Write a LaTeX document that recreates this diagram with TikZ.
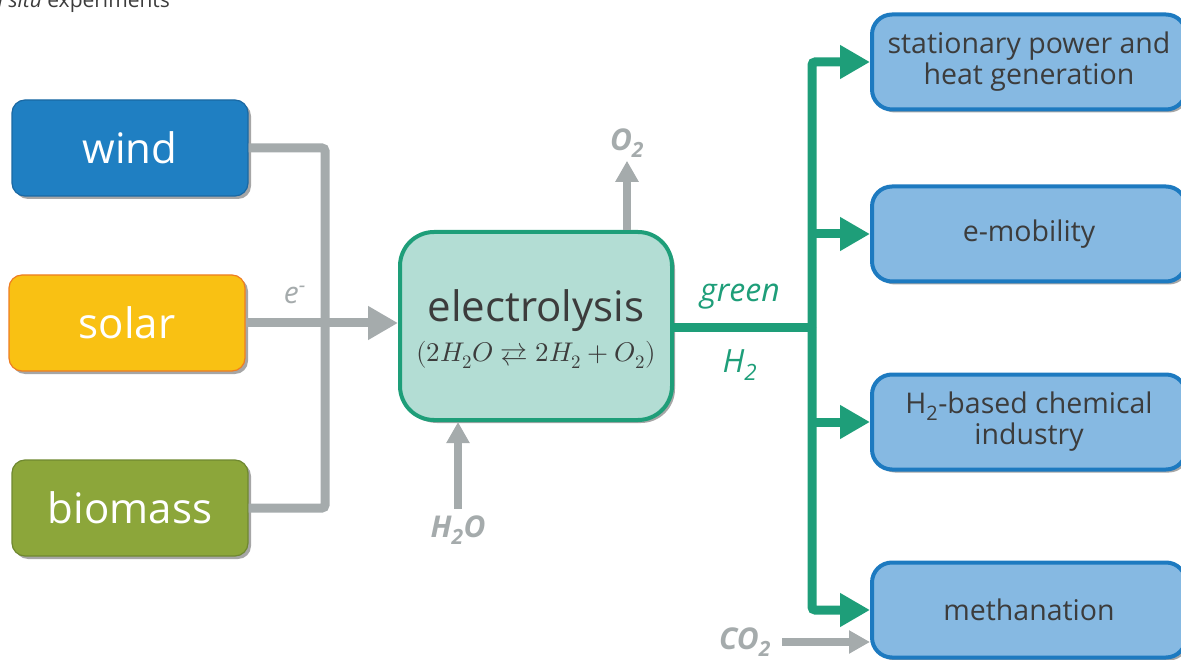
\documentclass[tikz,border=0pt]{standalone}
\usepackage{amsmath}
\usepackage{fontspec}
\usepackage{unicode-math}
\setmainfont{Open Sans}
\setmathfont{Latin Modern Math}
\usetikzlibrary{arrows.meta,positioning,shadows}
\definecolor{windblue}{HTML}{1F7FC2}
\definecolor{windedge}{HTML}{1A68A3}
\definecolor{solarfill}{HTML}{F9C113}
\definecolor{solaredge}{HTML}{EE7D22}
\definecolor{biofill}{HTML}{8CA63A}
\definecolor{bioedge}{HTML}{6F8830}
\definecolor{elecfill}{HTML}{B3DDD4}
\definecolor{hgreen}{HTML}{1E9E79}
\definecolor{usefill}{HTML}{86B9E2}
\definecolor{useedge}{HTML}{1D7AC0}
\definecolor{flowgray}{HTML}{A5ABAC}
\definecolor{textgray}{HTML}{3C3C3C}

\begin{document}
\begin{tikzpicture}[
  x=1pt, y=-1pt,
  shade/.style={drop shadow={shadow xshift=3pt, shadow yshift=-3pt, opacity=0.35, fill=black}},
  src/.style={draw, line width=1.2pt, rounded corners=13pt, minimum width=236pt, minimum height=96pt, text=white, font=\fontsize{42}{50}\selectfont, shade},
  use/.style={draw=useedge, fill=usefill, line width=4pt, rounded corners=20pt, minimum width=314pt, minimum height=95pt, align=center, text=textgray, font=\fontsize{28.5}{31}\selectfont, shade},
  lbl/.style={text=flowgray, inner sep=1pt, font=\fontsize{30}{32}\selectfont\itshape},
  blbl/.style={lbl, font=\fontsize{30}{32}\selectfont\bfseries\itshape},
  glbl/.style={text=hgreen, inner sep=1pt, font=\fontsize{32}{34}\selectfont\itshape},
  gline/.style={draw=flowgray, line width=9pt, rounded corners=3pt},
  garr/.style={gline, -{Triangle[length=30pt, width=32pt]}},
  sarr/.style={draw=flowgray, line width=8.5pt, -{Triangle[length=21pt, width=22pt]}},
  hline/.style={draw=hgreen, line width=9pt, rounded corners=3pt},
  harr/.style={hline, -{Triangle[length=30pt, width=32pt]}},
]
  \useasboundingbox (0,0) rectangle (1181,660);

  % caption remnant
  \node[anchor=base west, inner sep=0, text=textgray, font=\fontsize{21}{24}\selectfont] (cap) at (-14.5,8) {\textit{in situ} experiments};

  % Sources
  \node[src, fill=windblue, draw=windedge] (wind) at (130,148) {wind};
  \node[src, fill=solarfill, draw=solaredge] (solar) at (127,323) {solar};
  \node[src, fill=biofill, draw=bioedge] (bio) at (130,508) {biomass};

  % Electrolysis
  \node[draw=hgreen, fill=elecfill, line width=4pt, rounded corners=34pt, minimum width=272pt, minimum height=188pt, align=center, text=textgray, shade] (elec) at (536,326)
    {{\fontsize{42}{46}\selectfont\rule{0pt}{38pt}electrolysis}\\[9pt]
     {\fontsize{27}{30}\selectfont $(2H_2O \rightleftarrows 2H_2 + O_2)$}};

  % Uses
  \node[use] (u1) at (1029,62) {stationary power and\\heat generation};
  \node[use] (u2) at (1029,234) {e-mobility};
  \node[use] (u3) at (1029,422) {H\textsubscript{2}-based chemical\\industry};
  \node[use] (u4) at (1029,610) {methanation};

  % Electricity in
  \coordinate (bus) at (325,323);
  \draw[gline] (wind.east) -| (bus) |- (bio.east);
  \draw[garr] (solar.east) -- (solar.east -| elec.west);
  \node[lbl] (el) at (295,295) {e\textsuperscript{-}};

  % Water and oxygen
  \node[blbl] (o2) at (627,143) {O\textsubscript{2}};
  \draw[sarr] (elec.north -| o2) -- ([yshift=-2pt]o2.south);
  \node[blbl] (h2o) at (458,530) {H\textsubscript{2}O};
  \draw[sarr] ([yshift=5pt]h2o.north) -- (h2o.north |- elec.south);

  % Hydrogen out
  \coordinate (split) at (812,328);
  \draw[hline] (elec.east |- split) -- (split);
  \draw[harr] (split) |- (u1.west);
  \draw[harr] (split |- u2.west) -- (u2.west);
  \draw[harr] (split |- u3.west) -- (u3.west);
  \draw[harr] (split) |- (u4.west);
  \node[glbl] (gr) at (740,297) {green};
  \node[glbl] (h2) at (740,365) {H\textsubscript{2}};

  % Carbon dioxide
  \node[blbl] (co2) at (745,642) {CO\textsubscript{2}};
  \draw[sarr] ([xshift=10pt]co2.east) -- (co2.east -| u4.west);
\end{tikzpicture}
\end{document}
